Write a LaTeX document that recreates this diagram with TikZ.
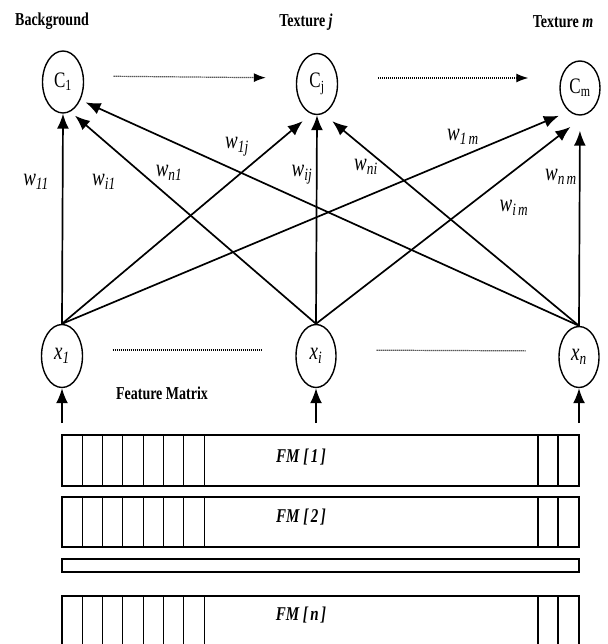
\documentclass[tikz,border=0pt]{standalone}
\usepackage{fontspec}
\setmainfont{Liberation Serif}
\usepackage{graphicx}
\usetikzlibrary{arrows.meta}
\usetikzlibrary{shapes.geometric}

\newcommand{\tall}[1]{\scalebox{1}[1.3]{#1}}

\begin{document}
\begin{tikzpicture}[x=1pt,y=-1pt]
	\tikzset{vertex/.style = {shape=ellipse,draw,line width=1.4pt,inner sep=0pt,minimum width=41pt,minimum height=62pt}}
	\tikzset{class/.style = {vertex,font=\fontsize{17}{19}\selectfont}}
	\tikzset{feature/.style = {vertex,font=\fontsize{19}{21}\selectfont\itshape}}
	\tikzset{edge/.style = {->,> = {Latex[length=15pt,width=12pt]},line width=1.7pt}}
	\tikzset{link/.style = {->,> = {Latex[length=12pt,width=9pt]},dash pattern=on 1pt off 1pt,line width=1.2pt}}
	\tikzset{dotline/.style = {dash pattern=on 1pt off 1pt,line width=1.2pt}}
	\tikzset{heading/.style = {font=\fontsize{14}{16}\selectfont\bfseries}}
	\tikzset{weight/.style = {font=\fontsize{19}{21}\selectfont\itshape}}
	\tikzset{rowname/.style = {font=\fontsize{15}{17}\selectfont\bfseries\itshape}}
	\tikzset{cellline/.style = {line width=1.1pt}}
	\useasboundingbox (0,0) rectangle (607,644);
	% headings
	\node[heading] (bg) at (52,21) {\tall{Background}};
	\node[heading] (tj) at (306,22) {\tall{Texture \textit{j}}};
	\node[heading] (tm) at (563,22) {\tall{Texture \textit{m}}};
	% classes
	\node[class] (c1) at (63,82) {\tall{C\textsubscript{1}}};
	\node[class,minimum height=61pt] (cj) at (317,84) {\tall{C\textsubscript{j}}};
	\node[class,minimum width=40pt,minimum height=54pt] (cm) at (580,88) {\tall{C\textsubscript{m}}};
	% features
	\node[feature,minimum height=63pt] (x1) at (62,356) {\tall{x\textsubscript{1}}};
	\node[feature,minimum width=40pt,minimum height=63pt] (xi) at (316,356) {\tall{x\textsubscript{i}}};
	\node[feature,minimum width=40pt,minimum height=61pt] (xn) at (579,357) {\tall{x\textsubscript{n}}};
	\node[heading] (fm) at (162,393) {\tall{Feature Matrix}};
	% inputs
	\coordinate (in1) at (62,423);
	\coordinate (ini) at (316,423);
	\coordinate (inn) at (579,423);
	% edges
	\draw[edge] (x1.north) -- (c1.south);
	\draw[edge,shorten >=6pt] (xi.north) -- (c1.-76);
	\draw[edge,shorten >=5.6pt] (xn.north) -- (c1.-46);
	\draw[edge,shorten >=11pt] (x1.north) -- (cj.-101);
	\draw[edge] (xi.north) -- (cj.south);
	\draw[edge,shorten >=11.6pt] (xn.north) -- (cj.-78);
	\draw[edge,shorten >=11pt] (x1.north) -- (cm.-115);
	\draw[edge,shorten >=21pt] (xi.north) -- (cm.-75);
	\draw[edge,shorten >=15pt] (xn.north) -- (cm.south);
	\draw[edge] (in1) -- (x1.south);
	\draw[edge] (ini) -- (xi.south);
	\draw[edge] (inn) -- (xn.south);
	% dotted links
	\draw[link,shorten <=29.5pt,shorten >=30pt] ([yshift=6pt]c1.east) -- ([yshift=6pt]cj.west);
	\draw[link,shorten <=40pt,shorten >=31pt] ([yshift=6pt]cj.east) -- ([yshift=10pt]cm.west);
	\draw[dotline,shorten <=29.5pt,shorten >=33pt] ([yshift=6pt]x1.east) -- ([yshift=6pt]xi.west);
	\draw[dotline,shorten <=40pt,shorten >=32pt] ([yshift=6pt]xi.east) -- ([yshift=6pt]xn.west);
	% weights
	\node[weight] (w11) at (36,182) {\tall{w\textsubscript{11}}};
	\node[weight] (wi1) at (104,182) {\tall{w\textsubscript{i1}}};
	\node[weight] (wn1) at (169,173) {\tall{w\textsubscript{n1}}};
	\node[weight] (w1j) at (237,147) {\tall{w\textsubscript{1j}}};
	\node[weight] (wij) at (302,175) {\tall{w\textsubscript{ij}}};
	\node[weight] (wni) at (366,167) {\tall{w\textsubscript{ni}}};
	\node[weight] (w1m) at (463,137) {\tall{w\textsubscript{1\,m}}};
	\node[weight] (wnm) at (561,177) {\tall{w\textsubscript{n\,m}}};
	\node[weight] (wim) at (514,208) {\tall{w\textsubscript{i\,m}}};
	% feature matrix rows
	\foreach \top/\bot in {435/486, 497/547, 596/660} {
		\draw[cellline] (62,\top) rectangle (579,\bot);
		\foreach \k in {1,...,7}
			\draw[cellline] (62+20.3*\k,\top) -- (62+20.3*\k,\bot);
		\draw[cellline] (538,\top) -- (538,\bot);
		\draw[cellline] (558,\top) -- (558,\bot);
	}
	\draw[cellline] (62,559) rectangle (579,572);
	\node[rowname] (fm1) at (301,457) {\tall{FM [\,1\,]}};
	\node[rowname] (fm2) at (301,517) {\tall{FM [\,2\,]}};
	\node[rowname] (fmn) at (301,615) {\tall{FM [\,n\,]}};
\end{tikzpicture}
\end{document}
